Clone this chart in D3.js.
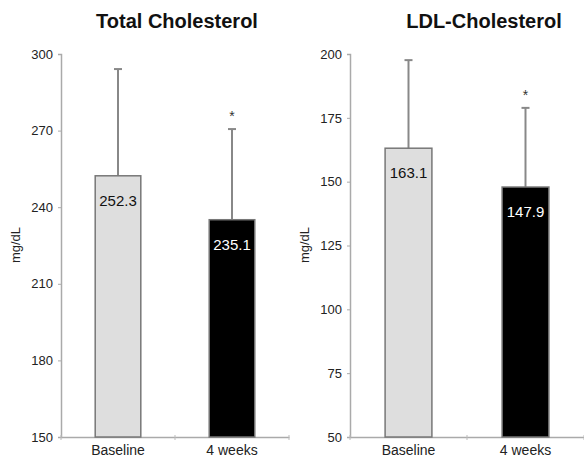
<!DOCTYPE html>
<html>
<head>
<meta charset="utf-8">
<script src="https://cdn.jsdelivr.net/npm/d3@7"></script>
<style>
body { margin: 0; background: #fff; }
svg { font-family: "Liberation Sans", Arial, sans-serif; }
</style>
</head>
<body>
<div id="chart"></div>
<script>
let width = 584,
height = 460;

// data
let groups = ["Baseline", "4 weeks"];
let panelTitles = ["Total Cholesterol", "LDL-Cholesterol"];
let totalMean = [252.3, 235.1];
let totalSD = [41.8, 35.5];
let ldlMean = [163.1, 147.9];
let ldlSD = [34.5, 31.0];
let significant = [false, true];
let totalTicks = [150, 180, 210, 240, 270, 300];
let ldlTicks = [50, 75, 100, 125, 150, 175, 200];

let panels = [
  { title: panelTitles[0], mean: totalMean, sd: totalSD, ticks: totalTicks, x0: 61, x1: 289, cx: 177 },
  { title: panelTitles[1], mean: ldlMean, sd: ldlSD, ticks: ldlTicks, x0: 350, x1: 584, cx: 484 }
];

let plotTop = 54, plotBottom = 437;

let svg = d3.select("#chart")
.append("svg")
.attr("width", width)
.attr("height", height);

panels.forEach(function(p) {
  let g = svg.append("g");

  let y = d3.scaleLinear()
  .domain(d3.extent(p.ticks))
  .range([plotBottom, plotTop]);

  let x = d3.scaleBand()
  .domain(groups)
  .range([p.x0, p.x1])
  .paddingInner(0.6)
  .paddingOuter(0.3);

  // title
  g.append("text")
  .attr("x", p.cx)
  .attr("y", 28)
  .attr("text-anchor", "middle")
  .attr("font-size", 20)
  .attr("font-weight", "bold")
  .attr("fill", "#111")
  .text(p.title);

  // y axis
  let yAxis = g.append("g")
  .attr("transform", "translate(" + p.x0 + ",0)")
  .call(d3.axisLeft(y).tickValues(p.ticks).tickSize(3).tickPadding(5));
  yAxis.select(".domain").attr("stroke", "#aaa").attr("stroke-width", 1.5);
  yAxis.selectAll(".tick line").attr("stroke", "#aaa");
  yAxis.selectAll("text").attr("font-size", 13).attr("fill", "#222")
  .attr("font-family", "Liberation Sans, Arial, sans-serif");

  // x axis
  let xAxis = g.append("g")
  .attr("transform", "translate(0," + plotBottom + ")")
  .call(d3.axisBottom(x).tickSize(0).tickPadding(8));
  xAxis.select(".domain").attr("stroke", "#aaa").attr("stroke-width", 1.5);
  xAxis.selectAll("text").attr("font-size", 14).attr("fill", "#222")
  .attr("font-family", "Liberation Sans, Arial, sans-serif");

  // separator ticks between categories
  g.selectAll(".sep")
  .data([p.x0, (p.x0 + p.x1) / 2, p.x1])
  .enter().append("line")
  .attr("x1", d => d).attr("x2", d => d)
  .attr("y1", plotBottom - 2).attr("y2", plotBottom + 3)
  .attr("stroke", "#bbb");

  // y label
  g.append("text")
  .attr("transform", "translate(" + (p.x0 - 41) + ",245) rotate(-90)")
  .attr("text-anchor", "middle")
  .attr("font-size", 13)
  .attr("fill", "#222")
  .text("mg/dL");

  // error bars
  groups.forEach(function(grp, i) {
    let cx = x(grp) + x.bandwidth() / 2;
    let yTop = y(p.mean[i] + p.sd[i]);
    g.append("line")
    .attr("x1", cx).attr("x2", cx)
    .attr("y1", y(p.mean[i])).attr("y2", yTop)
    .attr("stroke", "#888").attr("stroke-width", 2);
    g.append("line")
    .attr("x1", cx - 4).attr("x2", cx + 4)
    .attr("y1", yTop).attr("y2", yTop)
    .attr("stroke", "#888").attr("stroke-width", 2);
    if (significant[i]) {
      g.append("text")
      .attr("x", cx)
      .attr("y", yTop - 8)
      .attr("text-anchor", "middle")
      .attr("font-size", 14)
      .attr("fill", "#333")
      .text("*");
    }
  });

  // bars
  g.selectAll(".bar")
  .data(groups)
  .enter().append("rect")
  .classed("bar", true)
  .attr("x", d => x(d))
  .attr("width", x.bandwidth())
  .attr("y", (d, i) => y(p.mean[i]))
  .attr("height", (d, i) => plotBottom - y(p.mean[i]))
  .attr("fill", (d, i) => i === 0 ? "#dedede" : "#000")
  .attr("stroke", "#777")
  .attr("stroke-width", 1.5);

  // value labels
  g.selectAll(".val")
  .data(groups)
  .enter().append("text")
  .attr("x", d => x(d) + x.bandwidth() / 2)
  .attr("y", (d, i) => y(p.mean[i]) + 30)
  .attr("text-anchor", "middle")
  .attr("font-size", 15)
  .attr("fill", (d, i) => i === 0 ? "#111" : "#fff")
  .text((d, i) => p.mean[i].toFixed(1));
});
</script>
</body>
</html>
